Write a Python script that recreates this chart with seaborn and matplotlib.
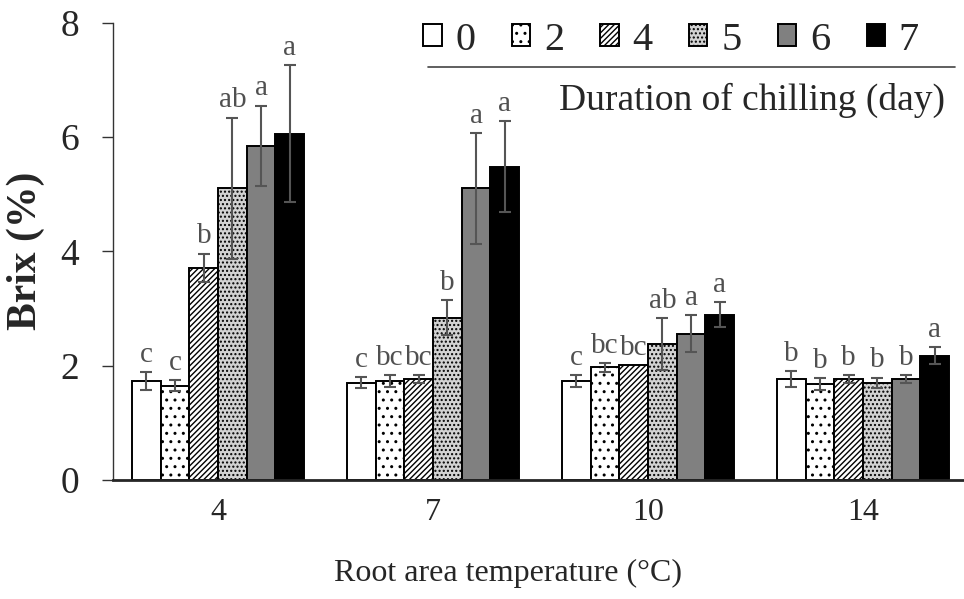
import matplotlib
matplotlib.use("Agg")
import matplotlib.pyplot as plt
from matplotlib.patches import Rectangle
from matplotlib.lines import Line2D
import numpy as np
import pandas as pd
import seaborn as sns

# Root-zone temperature groups and chilling durations (days)
temperatures = ["4", "7", "10", "14"]
durations = ["0", "2", "4", "5", "6", "7"]

# Mean Brix (%) per duration, one value per temperature
brix_day0 = [1.73, 1.70, 1.73, 1.77]
brix_day2 = [1.65, 1.73, 1.97, 1.68]
brix_day4 = [3.71, 1.77, 2.01, 1.77]
brix_day5 = [5.10, 2.84, 2.38, 1.70]
brix_day6 = [5.85, 5.10, 2.56, 1.77]
brix_day7 = [6.06, 5.48, 2.89, 2.17]

# Standard errors
se_day0 = [0.16, 0.10, 0.10, 0.14]
se_day2 = [0.09, 0.10, 0.08, 0.10]
se_day4 = [0.25, 0.07, 0.00, 0.07]
se_day5 = [1.24, 0.30, 0.45, 0.09]
se_day6 = [0.70, 0.97, 0.33, 0.07]
se_day7 = [1.20, 0.80, 0.22, 0.15]

# Significance letters
letters_day0 = ["c", "c", "c", "b"]
letters_day2 = ["c", "bc", "bc", "b"]
letters_day4 = ["b", "bc", "bc", "b"]
letters_day5 = ["ab", "b", "ab", "b"]
letters_day6 = ["a", "a", "a", "b"]
letters_day7 = ["a", "a", "a", "a"]

means = [brix_day0, brix_day2, brix_day4, brix_day5, brix_day6, brix_day7]
errors = [se_day0, se_day2, se_day4, se_day5, se_day6, se_day7]
letters = [letters_day0, letters_day2, letters_day4, letters_day5, letters_day6, letters_day7]

df = pd.DataFrame({
    "temp": np.tile(temperatures, len(durations)),
    "day": np.repeat(durations, len(temperatures)),
    "brix": np.concatenate(means),
})

sns.set_style("ticks")
plt.rcParams["font.family"] = ["Liberation Serif", "DejaVu Serif"]
plt.rcParams["hatch.linewidth"] = 1.0

face_colors = ["white", "white", "white", "#d2d2d2", "#808080", "black"]
hatches = [None, "..", "//////", "....", None, None]

fig = plt.figure(figsize=(9.64, 5.99), dpi=100)
ax = fig.add_axes([0.117, 0.199, 0.883, 0.763])

sns.barplot(data=df, x="temp", y="brix", hue="day", order=temperatures,
            hue_order=durations, palette=face_colors, edgecolor="black",
            linewidth=1.4, errorbar=None, width=0.8, saturation=1,
            legend=False, ax=ax)

err_color = "#555555"
bar_groups = list(ax.containers)
for i, container in enumerate(bar_groups):
    for j, bar in enumerate(container):
        if hatches[i]:
            bar.set_hatch(hatches[i])
        x = bar.get_x() + bar.get_width() / 2
        h = bar.get_height()
        e = errors[i][j]
        if e > 0:
            ax.errorbar(x, h, yerr=e, fmt="none", ecolor=err_color,
                        elinewidth=1.5, capsize=4, capthick=1.5, zorder=3)
        ax.annotate(letters[i][j], (x, h + e), xytext=(0, 3),
                    textcoords="offset points", ha="center", va="bottom",
                    fontsize=21, color="#505050")

ax.set_ylim(0, 8)
ax.set_yticks([0, 2, 4, 6, 8])
ax.set_xlim(-0.49, 3.47)
ax.tick_params(axis="y", labelsize=27, length=8, width=1, color="#333333",
               direction="out", pad=16)
ax.tick_params(axis="x", labelsize=23, length=0, pad=13)
ax.set_xlabel("Root area temperature (°C)", fontsize=23)
ax.xaxis.set_label_coords(0.464, -0.172)
ax.set_ylabel("Brix (%)", fontsize=30, fontweight="bold")
ax.yaxis.set_label_coords(-0.080, 0.5)
sns.despine(ax=ax)
ax.spines["left"].set_linewidth(1.0)
ax.spines["left"].set_color("#333333")
ax.spines["bottom"].set_linewidth(2.0)

# Legend row with divider and caption
handles = []
for i, d in enumerate(durations):
    handles.append(Rectangle((0, 0), 1, 1, facecolor=face_colors[i],
                             edgecolor="black", linewidth=1.4,
                             hatch=hatches[i]))
ax.legend(handles, durations, ncol=6, loc="center right",
          bbox_to_anchor=(0.947, 0.962), frameon=False, fontsize=29,
          handlelength=0.45, handleheight=0.45, handletextpad=0.35,
          columnspacing=0.9, borderpad=0, borderaxespad=0)
ax.add_line(Line2D([0.370, 0.989], [0.904, 0.904], transform=ax.transAxes,
                   color="#444444", linewidth=1.2, clip_on=False))
ax.text(0.978, 0.830, "Duration of chilling (day)", transform=ax.transAxes,
        ha="right", va="center", fontsize=27)

fig.savefig("out.png", dpi=100)
